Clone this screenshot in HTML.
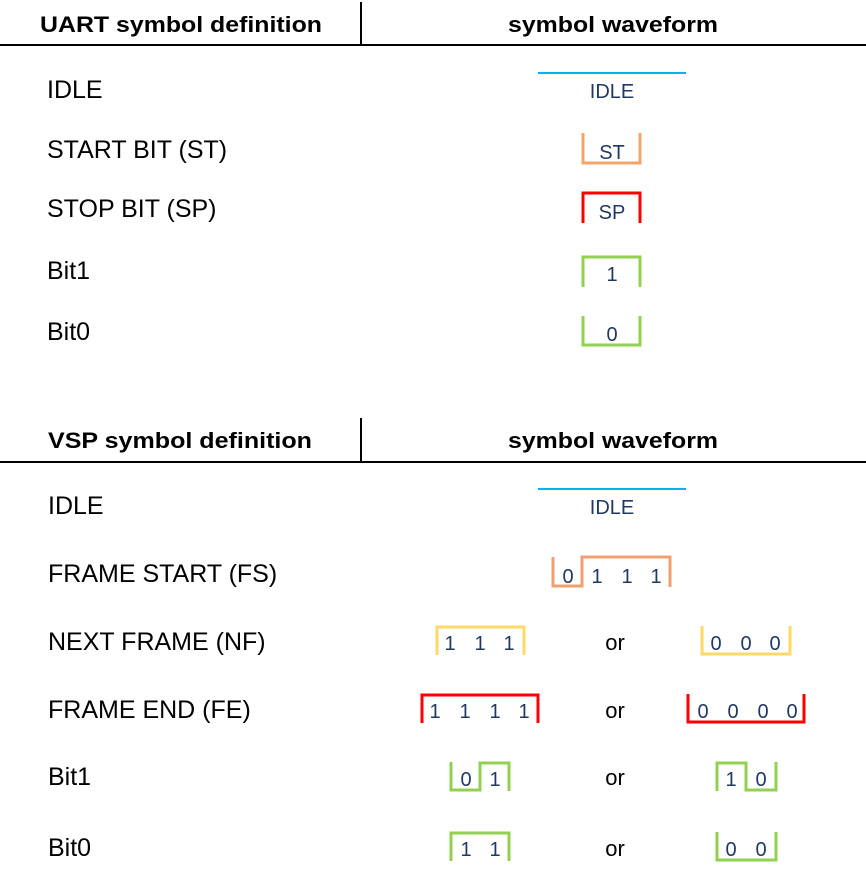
<!DOCTYPE html>
<html><head><meta charset="utf-8"><style>
html,body{margin:0;padding:0;background:#fff;}
svg{display:block;font-family:"Liberation Sans",sans-serif;}
.h{font-weight:bold;font-size:22px;fill:#000;}
.l{font-size:25px;fill:#000;}
.d{font-size:20px;fill:#1f3864;text-anchor:middle;}
.or{font-size:22px;fill:#000;text-anchor:middle;}
.w{fill:none;stroke-width:3;}
</style></head><body>
<svg width="866" height="877" viewBox="0 0 866 877">
<g>
<text class="h" x="40" y="32" textLength="282" lengthAdjust="spacingAndGlyphs">UART symbol definition</text>
<text class="h" x="508" y="32" textLength="210" lengthAdjust="spacingAndGlyphs">symbol waveform</text>
<line x1="361" y1="2" x2="361" y2="45" stroke="#000" stroke-width="2"/>
<line x1="0" y1="45" x2="866" y2="45" stroke="#000" stroke-width="2"/>
</g>
<g>
<text class="l" x="47" y="98">IDLE</text>
<text class="l" x="47" y="158">START BIT (ST)</text>
<text class="l" x="47" y="217">STOP BIT (SP)</text>
<text class="l" x="47" y="279">Bit1</text>
<text class="l" x="47" y="340">Bit0</text>
</g>
<g>
<line x1="538" y1="73" x2="686" y2="73" stroke="#00b0f0" stroke-width="2"/>
<text class="d" x="612" y="98">IDLE</text>
<polyline class="w" stroke="#f4a46a" points="583,133 583,163 640,163 640,133"/>
<text class="d" x="612" y="159">ST</text>
<polyline class="w" stroke="#ff0000" points="583,223 583,193 640,193 640,223"/>
<text class="d" x="612" y="219">SP</text>
<polyline class="w" stroke="#92d050" points="583,287 583,257 640,257 640,287"/>
<text class="d" x="612" y="281">1</text>
<polyline class="w" stroke="#92d050" points="583,316 583,345 640,345 640,316"/>
<text class="d" x="612" y="341">0</text>
</g>
<g>
<text class="h" x="48" y="448" textLength="264" lengthAdjust="spacingAndGlyphs">VSP symbol definition</text>
<text class="h" x="508" y="448" textLength="210" lengthAdjust="spacingAndGlyphs">symbol waveform</text>
<line x1="361" y1="418" x2="361" y2="461" stroke="#000" stroke-width="2"/>
<line x1="0" y1="462" x2="866" y2="462" stroke="#000" stroke-width="2"/>
</g>
<g>
<text class="l" x="48" y="514">IDLE</text>
<text class="l" x="48" y="582">FRAME START (FS)</text>
<text class="l" x="48" y="650">NEXT FRAME (NF)</text>
<text class="l" x="48" y="718">FRAME END (FE)</text>
<text class="l" x="48" y="785">Bit1</text>
<text class="l" x="48" y="856">Bit0</text>
</g>
<g>
<line x1="538" y1="489" x2="686" y2="489" stroke="#00b0f0" stroke-width="2"/>
<text class="d" x="612" y="514">IDLE</text>
<polyline class="w" stroke="#f0a070" points="553,557 553,586 582,586 582,557 670,557 670,587"/>
<text class="d" x="568" y="583">0</text><text class="d" x="597" y="583">1</text><text class="d" x="627" y="583">1</text><text class="d" x="656" y="583">1</text>

<polyline class="w" stroke="#ffd966" points="437,655 437,627 524,627 524,655"/>
<text class="d" x="450" y="650">1</text><text class="d" x="480" y="650">1</text><text class="d" x="509" y="650">1</text>
<text class="or" x="615" y="650">or</text>
<polyline class="w" stroke="#ffd966" points="702,626 702,654 790,654 790,626"/>
<text class="d" x="716" y="650">0</text><text class="d" x="746" y="650">0</text><text class="d" x="775" y="650">0</text>

<polyline class="w" stroke="#ff0000" points="422,723 422,695 538,695 538,723"/>
<text class="d" x="435" y="718">1</text><text class="d" x="465" y="718">1</text><text class="d" x="495" y="718">1</text><text class="d" x="524" y="718">1</text>
<text class="or" x="615" y="718">or</text>
<polyline class="w" stroke="#ff0000" points="688,694 688,722 804,722 804,694"/>
<text class="d" x="703" y="718">0</text><text class="d" x="733" y="718">0</text><text class="d" x="763" y="718">0</text><text class="d" x="792" y="718">0</text>

<polyline class="w" stroke="#92d050" points="451,762 451,790 480,790 480,763 509,763 509,791"/>
<text class="d" x="466" y="786">0</text><text class="d" x="495" y="786">1</text>
<text class="or" x="615" y="785">or</text>
<polyline class="w" stroke="#92d050" points="717,791 717,763 746,763 746,790 776,790 776,762"/>
<text class="d" x="731" y="786">1</text><text class="d" x="761" y="786">0</text>

<polyline class="w" stroke="#92d050" points="451,861 451,833 509,833 509,861"/>
<text class="d" x="466" y="856">1</text><text class="d" x="495" y="856">1</text>
<text class="or" x="615" y="856">or</text>
<polyline class="w" stroke="#92d050" points="717,832 717,860 776,860 776,832"/>
<text class="d" x="731" y="856">0</text><text class="d" x="761" y="856">0</text>
</g>
</svg>
</body></html>
